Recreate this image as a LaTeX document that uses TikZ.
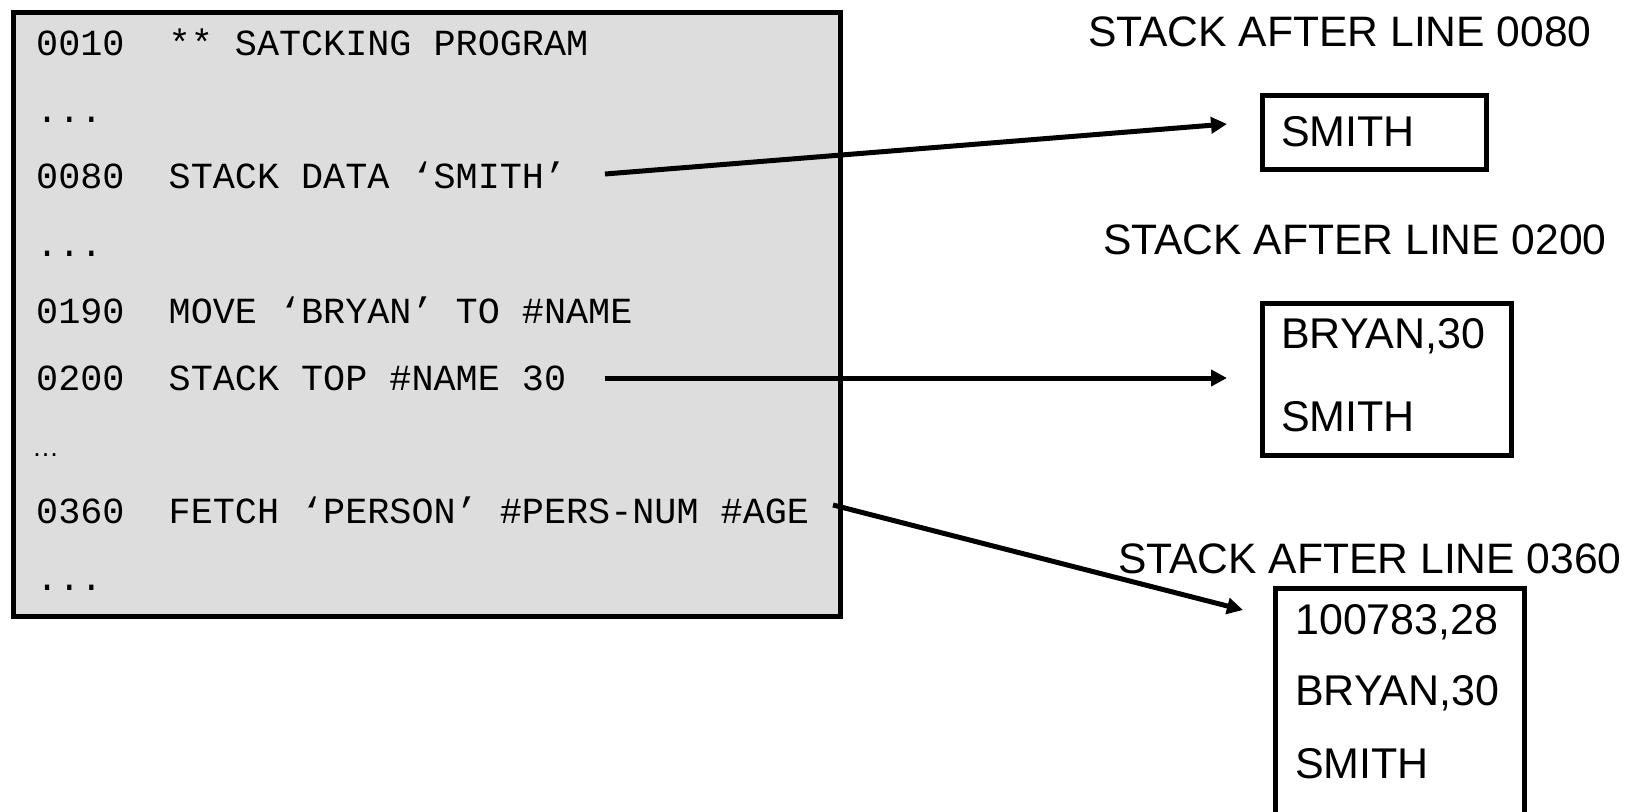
\documentclass[tikz,border=0pt]{standalone}
\usepackage{fontspec}
\setmainfont{Liberation Sans}
\newfontfamily\codefont{Liberation Mono}
\usetikzlibrary{arrows.meta}
\definecolor{listbg}{HTML}{DDDDDD}
\tikzset{
  codeline/.style={anchor=base west, inner sep=0pt, font=\codefont\fontsize{36.8}{40}\selectfont},
  stacktitle/.style={anchor=base west, inner sep=0pt, font=\fontsize{42.6}{48}\selectfont},
  stackitem/.style={anchor=base west, inner sep=0pt, font=\fontsize{43}{48}\selectfont},
  stackbox/.style={draw, line width=5pt, anchor=north west, inner sep=0pt},
  pointer/.style={line width=5pt, -{Triangle[length=16pt,width=16pt]}},
}
\begin{document}
\begin{tikzpicture}[x=1pt,y=-1pt]
\useasboundingbox (0,0) rectangle (1635,811);

% program listing
\node[stackbox, fill=listbg, minimum width=827pt, minimum height=604pt] (listing) at (11,9.5) {};
\node[codeline] (l1) at (36,55)  {0010\ \ ** SATCKING PROGRAM};
\node[codeline] (l2) at (36,122) {...};
\node[codeline] (l3) at (36,188) {0080\ \ STACK DATA ‘SMITH’};
\node[codeline] (l4) at (36,256) {...};
\node[codeline] (l5) at (36,323) {0190\ \ MOVE ‘BRYAN’ TO \#NAME};
\node[codeline] (l6) at (36,390) {0200\ \ STACK TOP \#NAME 30};
\node[anchor=base west, inner sep=0pt, font=\fontsize{27}{30}\selectfont] (l7) at (32,456) {…};
\node[codeline] (l8) at (36,523) {0360\ \ FETCH ‘PERSON’ \#PERS-NUM \#AGE};
\node[codeline] (l9) at (36,590) {...};

% stack states
\node[stacktitle] (t1) at (1088,46)  {STACK AFTER LINE 0080};
\node[stackbox, minimum width=224pt, minimum height=74.5pt] (s1) at (1260,92.5) {};
\node[stackitem] (s1a) at (1281,146) {SMITH};

\node[stacktitle] (t2) at (1103,254) {STACK AFTER LINE 0200};
\node[stackbox, minimum width=249pt, minimum height=151.5pt] (s2) at (1260,301) {};
\node[stackitem] (s2a) at (1281,348) {BRYAN,30};
\node[stackitem] (s2b) at (1281,431) {SMITH};

\node[stacktitle] (t3) at (1118,573) {STACK AFTER LINE 0360};
\node[stackbox, minimum width=249pt, minimum height=260pt] (s3) at (1273,586) {};
\node[stackitem] (s3a) at (1295,634) {100783,28};
\node[stackitem] (s3b) at (1295,705) {BRYAN,30};
\node[stackitem] (s3c) at (1295,778) {SMITH};

% pointers from listing lines to stack states
\coordinate (p1) at (605,174);
\coordinate (q1) at (1227,124);
\coordinate (p2) at (605,378);
\coordinate (q2) at (1227,378);
\coordinate (p3) at (833,505);
\coordinate (q3) at (1243,610);
\draw[pointer] (p1) -- (q1);
\draw[pointer] (p2) -- (q2);
\draw[pointer] (p3) -- (q3);
\end{tikzpicture}
\end{document}
